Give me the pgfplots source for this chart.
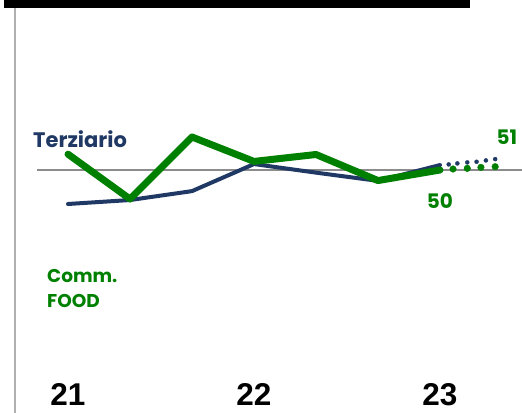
\documentclass[border=0pt]{standalone}
\usepackage{pgfplots}
\pgfplotsset{compat=1.18}
\usepackage{fontspec}
\setmainfont{Liberation Sans}
\newfontfamily\geo{Poppins}
\definecolor{navy}{RGB}{31,56,100}
\definecolor{grn}{RGB}{0,128,0}
\definecolor{axgray}{RGB}{176,176,176}
\begin{document}
\begin{tikzpicture}
\begin{axis}[
  at={(0,0)}, anchor=south west,
  scale only axis, width=522bp, height=413bp,
  xmin=-1.0968, xmax=7.3226,
  ymin=-23.64, ymax=101.52,
  axis x line=bottom,
  hide y axis,
  clip=false,
  xtick={0,3,6}, xticklabels={21,22,23},
  xtick pos=bottom,
  xticklabel style={anchor=base, yshift=8bp, font=\fontsize{31.5bp}{34bp}\selectfont\bfseries},
  x axis line style={draw=none, -},
  major tick length=0pt,
]
% frame decorations
\draw[fill=black, draw=none] (axis cs:-1.0323,101.52) rectangle (axis cs:6.4839,99.09);
\draw[axgray, line width=2.2bp] (axis cs:-0.855,99.09) -- (axis cs:-0.855,-23.64);
\draw[gray!90, line width=1.2bp] (axis cs:-0.5,50) -- (axis cs:7.3226,50);
% Terziario (navy)
\addplot[navy, line width=4bp, line join=round, line cap=round] coordinates {
 (0,39.7) (1,40.9) (2,43.6) (3,51.8) (4,49.2) (5,46.7) (6,51.5)};
\addplot[only marks, mark=*, mark size=2bp, navy, mark options={draw=none, fill=navy}] coordinates {
 (6.14,51.7) (6.28,52.0) (6.44,52.3) (6.59,52.5) (6.74,52.9) (6.89,53.3)};
% Comm. FOOD (green)
\addplot[grn, line width=7bp, line join=round, line cap=round] coordinates {
 (0,54.8) (1,41.2) (2,60.0) (3,52.6) (4,54.7) (5,46.8) (6,50.0)};
\addplot[only marks, mark=*, mark size=3.3bp, grn, mark options={draw=none, fill=grn}] coordinates {
 (6.21,50.3) (6.44,50.5) (6.66,50.8) (6.89,51.0)};
% labels
\node[anchor=base west, inner sep=0pt, text=navy, font=\geo\fontsize{21bp}{24bp}\selectfont\bfseries] at (axis cs:-0.565,56.76) {Terziario};
\node[anchor=base west, inner sep=0pt, text=grn, font=\geo\fontsize{18.5bp}{24bp}\selectfont\bfseries] at (axis cs:-0.339,15.76) {Comm.};
\node[anchor=base west, inner sep=0pt, text=grn, font=\geo\fontsize{18.5bp}{24bp}\selectfont\bfseries] at (axis cs:-0.339,8.48) {FOOD};
\node[anchor=base, inner sep=0pt, text=grn, font=\geo\fontsize{20bp}{24bp}\selectfont\bfseries] at (axis cs:6.0,38.2) {50};
\node[anchor=base, inner sep=0pt, text=grn, font=\geo\fontsize{20bp}{24bp}\selectfont\bfseries] at (axis cs:7.08,57.6) {51};
\end{axis}
\pgfresetboundingbox
\useasboundingbox (0,0) rectangle (522bp,413bp);
\end{tikzpicture}
\end{document}
